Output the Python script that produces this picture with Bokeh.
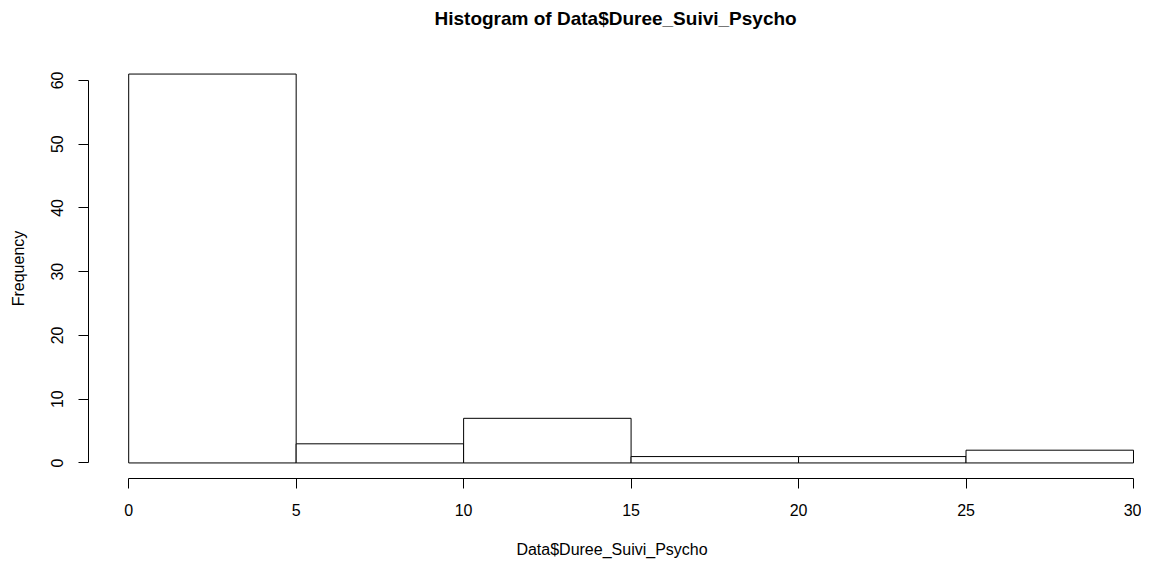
from bokeh.plotting import figure
from bokeh.models import Range1d, FixedTicker, LinearAxis, ColumnDataSource, Title
from bokeh.embed import file_html
from bokeh.resources import INLINE

# Data
breaks = [0, 5, 10, 15, 20, 25, 30]
counts = [61, 3, 7, 1, 1, 2]
x_ticks = [0, 5, 10, 15, 20, 25, 30]
y_ticks = [0, 10, 20, 30, 40, 50, 60]
title_text = "Histogram of Data$Duree_Suivi_Psycho"
x_label = "Data$Duree_Suivi_Psycho"
y_label = "Frequency"

FONT = "Liberation Sans"

src = ColumnDataSource(dict(left=breaks[:-1], right=breaks[1:],
                            bottom=[0] * len(counts), top=counts))

p = figure(width=1141, height=560, output_backend="svg", toolbar_location=None,
           x_range=Range1d(-1.2, 30.06), y_range=Range1d(-2.44, 63.44),
           x_axis_location=None, y_axis_location=None,
           min_border_left=88, min_border_right=6,
           min_border_top=58, min_border_bottom=82)
p.outline_line_color = None
p.background_fill_color = "white"
p.border_fill_color = "white"
p.xgrid.visible = False
p.ygrid.visible = False

p.quad(left="left", right="right", bottom="bottom", top="top", source=src,
       fill_color="white", line_color="black", line_width=1)

# invisible spacer between frame and title: one hidden tick, empty label
spacer = LinearAxis(ticker=FixedTicker(ticks=[15], minor_ticks=[]), axis_line_color=None,
                    major_tick_out=21, major_tick_in=0, minor_tick_out=0, minor_tick_in=0,
                    major_label_standoff=0, major_tick_line_color=None,
                    minor_tick_line_color=None, major_label_text_font_size="0px",
                    major_label_overrides={15: ""})
p.add_layout(spacer, "above")

title = Title(text=title_text, align="left", offset=346, vertical_align="top",
              standoff=14, text_font=FONT, text_font_size="19px",
              text_font_style="bold", text_color="black")
p.add_layout(title, "above")

def style(ax):
    ax.axis_line_color = "black"
    ax.major_tick_line_color = "black"
    ax.major_tick_out = 10
    ax.major_tick_in = 0
    ax.minor_tick_line_color = None
    ax.major_label_text_font = FONT
    ax.major_label_text_font_size = "16px"
    ax.major_label_text_color = "black"
    ax.axis_label_text_font = FONT
    ax.axis_label_text_font_size = "16px"
    ax.axis_label_text_font_style = "normal"
    ax.axis_label_text_color = "black"

xa = LinearAxis(ticker=FixedTicker(ticks=x_ticks), bounds=(x_ticks[0], x_ticks[-1]),
                axis_label=x_label)
style(xa)
xa.major_label_standoff = 15
xa.axis_label_standoff = 22
p.add_layout(xa, "below")

ya = LinearAxis(ticker=FixedTicker(ticks=y_ticks), bounds=(y_ticks[0], y_ticks[-1]),
                axis_label=y_label)
style(ya)
ya.major_label_orientation = "vertical"
ya.major_label_standoff = 15
ya.axis_label_standoff = 22
p.add_layout(ya, "left")

open("out.html", "w").write(file_html(p, INLINE))
